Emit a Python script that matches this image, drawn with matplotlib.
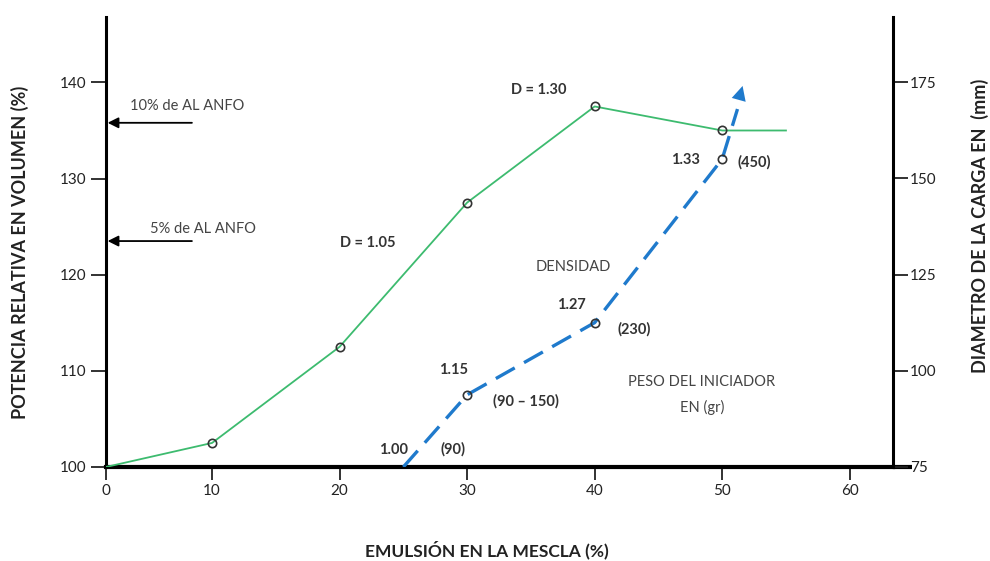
import numpy as np
import matplotlib
matplotlib.use('Agg')
import matplotlib.pyplot as plt

plt.rcParams['font.family'] = ['Lato', 'DejaVu Sans']

# datos
emulsion = [0, 10, 20, 30, 40, 50, 55]
potencia = [100, 102.5, 112.5, 127.5, 137.5, 135, 135]
emul_marcas = [10, 20, 30, 40, 50]
pot_marcas = [102.5, 112.5, 127.5, 137.5, 135]

emul_diam = [25, 30, 40, 50, 51.6]
diametro = [75, 93.75, 112.5, 155, 174]
emul_diam_marcas = [30, 40, 50]
diam_marcas = [93.75, 112.5, 155]

xticks = [0, 10, 20, 30, 40, 50, 60]
yticks_izq = [100, 110, 120, 130, 140]
yticks_der = [75, 100, 125, 150, 175]

verde = '#3dbb6f'
azul = '#1f7acc'

# echelle x : 0-10 plus serre que le reste (comme sur l'original)
def fwd(x):
    return np.interp(x, [-100, 0, 10, 200], [-83.14, 0, 8.314, 198.314])

def inv(x):
    return np.interp(x, [-83.14, 0, 8.314, 198.314], [-100, 0, 10, 200])

fig = plt.figure(figsize=(9.9, 5.61), dpi=100)
ax = fig.add_axes([0.1071, 0.1676, 0.795, 0.802])
ax.set_xscale('function', functions=(fwd, inv))
ax2 = ax.twinx()

ax.plot(emulsion, potencia, color=verde, lw=1.3, zorder=3)
ax.plot(emul_marcas, pot_marcas, 'o', ms=6, mfc='none', mec='#333333', mew=1.2, zorder=4)

ax2.plot(emul_diam[:-1] + [emul_diam[-1] - 0.4], diametro[:-1] + [diametro[-1] - 6],
         color=azul, lw=2.4, dashes=(6.5, 3.2), zorder=3)
ax2.annotate('', xy=(emul_diam[-1], diametro[-1]), xytext=(emul_diam[-2], diametro[-2]),
             arrowprops=dict(arrowstyle='-|>', color=azul, lw=0, mutation_scale=26,
                             shrinkA=0, shrinkB=0), zorder=3)
ax2.plot(emul_diam_marcas, diam_marcas, 'o', ms=6, mfc='none', mec='#333333', mew=1.2, zorder=4)

ax.set_xlim(0, 63.4)
ax.set_ylim(100, 146.8)
ax2.set_ylim(75, 191.9)

ax.set_xticks(xticks)
ax.set_yticks(yticks_izq)
ax2.set_yticks(yticks_der)

for a in (ax, ax2):
    a.spines['top'].set_visible(False)
ax2.spines['left'].set_visible(False)
ax2.spines['bottom'].set_visible(False)
ax.spines['right'].set_visible(False)
ax.spines['left'].set_linewidth(2.2)
ax.spines['bottom'].set_linewidth(3)
ax2.spines['right'].set_linewidth(2.2)

ax.tick_params(axis='y', length=11, width=1.3, labelsize=11, colors='#222222', pad=3)
ax.tick_params(axis='x', length=9, width=1.3, labelsize=11, colors='#222222', pad=3)
ax2.tick_params(axis='y', length=11, width=1.3, labelsize=11, colors='#222222', pad=1)

# prolongacion del eje x
ax.plot([1.0, 1.024], [0, 0], transform=ax.transAxes, color='black', lw=3,
        clip_on=False, solid_capstyle='butt')

ax.set_ylabel('POTENCIA RELATIVA EN VOLUMEN (%)', fontsize=13, fontweight='bold', color='#222222')
ax.yaxis.set_label_coords(-0.098, 0.476)
ax2.set_ylabel('DIAMETRO DE LA CARGA EN  (mm)', fontsize=13, fontweight='bold', color='#222222')
ax2.yaxis.set_label_coords(1.099, 0.536)
ax.set_xlabel('EMULSIÓN EN LA MESCLA (%)', fontsize=12.5, fontweight='bold', color='#222222')
ax.xaxis.set_label_coords(0.484, -0.164)

# textos
tb = dict(fontsize=10.5, fontweight='bold', color='#333333', va='center')
tn = dict(fontsize=10.5, color='#444444', va='center')
ax.text(35.6, 139.2, 'D = 1.30', ha='center', **tb)
ax.text(22.2, 123.3, 'D = 1.05', ha='center', **tb)
ax.text(48.3, 131.9, '1.33', ha='right', **tb)
ax.text(51.2, 131.7, '(450)', ha='left', **tb)
ax.text(38.3, 120.8, 'DENSIDAD', ha='center', **tn)
ax.text(38.2, 116.8, '1.27', ha='center', **tb)
ax.text(41.8, 114.3, '(230)', ha='left', **tb)
ax.text(28.9, 110.1, '1.15', ha='center', **tb)
ax.text(32.0, 106.8, '(90 – 150)', ha='left', **tb)
ax.text(48.4, 108.8, 'PESO DEL INICIADOR', ha='center', **tn)
ax.text(48.4, 106.2, 'EN (gr)', ha='center', **tn)
ax.text(24.2, 101.8, '1.00', ha='center', **tb)
ax.text(28.9, 101.8, '(90)', ha='center', **tb)

ax.text(2.3, 137.5, '10% de AL ANFO', ha='left', **tn)
ax.text(4.1, 124.8, '5% de AL ANFO', ha='left', **tn)
for yy in (135.8, 123.5):
    ax.annotate('', xy=(0.15, yy), xytext=(8.1, yy),
                arrowprops=dict(arrowstyle='-|>', color='black', lw=1.3,
                                mutation_scale=16, shrinkA=0, shrinkB=0))

fig.savefig('out.png', dpi=100)
